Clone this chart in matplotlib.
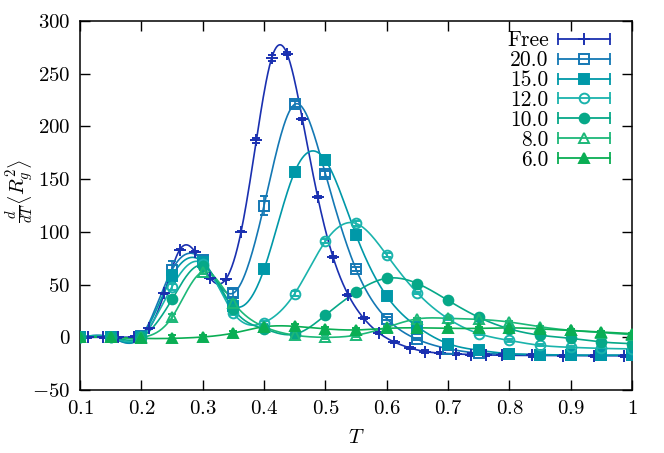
import numpy as np
import matplotlib
matplotlib.use("Agg")
import matplotlib.pyplot as plt
from matplotlib.lines import Line2D
from matplotlib.legend_handler import HandlerLine2D

plt.rcParams['font.family'] = 'cmr10'
plt.rcParams['mathtext.fontset'] = 'cm'
plt.rcParams['axes.formatter.use_mathtext'] = True

# temperatures
T = [0.1, 0.15, 0.2, 0.25, 0.3, 0.35, 0.4, 0.45, 0.5, 0.55,
     0.6, 0.65, 0.7, 0.75, 0.8, 0.85, 0.9, 0.95, 1.0]
T_free = [0.1125, 0.1375, 0.1625, 0.1875, 0.2125, 0.2375, 0.2625, 0.2875,
          0.3125, 0.3375, 0.3625, 0.3875, 0.4125, 0.4375, 0.4625, 0.4875,
          0.5125, 0.5375, 0.5625, 0.5875, 0.6125, 0.6375, 0.6625, 0.6875,
          0.7125, 0.7375, 0.7625, 0.7875, 0.8375, 0.8875, 0.9375, 0.9875]

free = [0, 0, 0, 0.5, 8.5, 42, 83, 81, 56, 55, 100, 187, 265, 269, 207, 133,
        76, 40, 18, 4, -4.5, -10, -13.5, -15, -15.8, -16.3, -16.7, -17,
        -17.2, -17.3, -17.4, -17.5]
free_err = [0.5] * 11 + [2.5, 2.5, 1.5] + [1] * 18

k20 = [0, 0, 1, 64, 73, 42, 125, 221, 155, 64.5, 17.7, -2, -10.8, -15,
       -16, -16.5, -17, -17, -17]
k15 = [0, 0, 0.5, 58, 71, 30, 64.5, 157, 168, 97, 39, 10, -6, -12.3,
       -15.5, -16.5, -17, -17, -17]
k12 = [0, 0, 0.3, 48, 70, 23, 14, 41.5, 91, 108, 78, 42, 17.7, 3.5,
       -3, -7.6, -9.5, -10.5, -11]
k10 = [0, 0, 0, 36, 68, 27, 8, 3, 21, 43, 56, 51, 35, 19, 8, 2, -1,
       -4.4, -6]
k8 = [0, 0, 0, 19, 62, 33, 10, 2, 0, 2, 9.5, 17.5, 18, 17, 14.5, 10,
      6.6, 4.5, 2.5]
k6 = [0, 0, -1, -1, 0.3, 4, 10, 10.4, 8, 7, 8.5, 9, 8.5, 8.5, 9, 8,
      6.5, 5, 3.5]

err20 = [0.5, 0.5, 1, 8, 3, 4, 9, 3, 3, 2, 1.5, 1, 1, 1, 1, 1, 1, 1, 1]
err15 = [0.5, 0.5, 1, 6, 3, 3, 2, 3, 3, 2, 1.5, 1, 1, 1, 1, 1, 1, 1, 1]
err_small = [0.5, 0.5, 1, 3, 2, 2, 1.5, 2, 2, 2, 1.5, 1, 1, 1, 1, 1, 1, 1, 1]

labels = ['Free', '20.0', '15.0', '12.0', '10.0', '8.0', '6.0']
colors = ['#1a30b0', '#1478b4', '#0098a8', '#1ab3ac', '#06a888',
          '#1cb878', '#0aae54']
markers = ['+', 's', 's', 'o', 'o', '^', '^']
filled = [True, False, True, False, True, False, True]


def natural_spline(x, y, xs):
    x = np.asarray(x, float)
    y = np.asarray(y, float)
    n = len(x)
    h = np.diff(x)
    A = np.zeros((n, n))
    b = np.zeros(n)
    A[0, 0] = 1
    A[-1, -1] = 1
    for i in range(1, n - 1):
        A[i, i - 1] = h[i - 1]
        A[i, i] = 2 * (h[i - 1] + h[i])
        A[i, i + 1] = h[i]
        b[i] = 6 * ((y[i + 1] - y[i]) / h[i] - (y[i] - y[i - 1]) / h[i - 1])
    M = np.linalg.solve(A, b)
    idx = np.clip(np.searchsorted(x, xs) - 1, 0, n - 2)
    x0, x1 = x[idx], x[idx + 1]
    hh = x1 - x0
    a = (x1 - xs) / hh
    c = (xs - x0) / hh
    return (a * y[idx] + c * y[idx + 1]
            + ((a ** 3 - a) * M[idx] + (c ** 3 - c) * M[idx + 1]) * hh ** 2 / 6)


series = [(T_free, free, free_err), (T, k20, err20), (T, k15, err15),
          (T, k12, err_small), (T, k10, err_small), (T, k8, err_small),
          (T, k6, err_small)]

fig = plt.figure(figsize=(6.64, 4.53), dpi=100)
ax = fig.add_axes([0.1205, 0.139, 0.8315, 0.8146])

handles = []
hmap = {}
for (x, y, e), lab, c, m, f in zip(series, labels, colors, markers, filled):
    xs = np.linspace(x[0], x[-1], 600)
    ax.plot(xs, natural_spline(x, y, xs), color=c, lw=1.2, zorder=2)
    ms = 9 if m == '+' else 7
    ax.errorbar(x, y, yerr=e, fmt=m, color=c, ms=ms, mew=1.4,
                mfc=c if f else 'none', elinewidth=1.2, capsize=3,
                capthick=1.2, zorder=3)
    cap = Line2D([], [], color=c, lw=1.3, marker='|', ms=9, mew=1.3)
    mk = Line2D([], [], color=c, ls='none', marker=m, ms=ms, mew=1.4,
                mfc=c if f else 'none')
    hmap[cap] = HandlerLine2D(numpoints=2, marker_pad=0)
    handles.append((cap, mk))

ax.legend(handles, labels, loc='upper right', markerfirst=False,
          frameon=False, fontsize=15.5, handlelength=2.4, labelspacing=0.015,
          handletextpad=0.45, borderaxespad=0.0, borderpad=0.0,
          bbox_to_anchor=(0.96, 0.973), handler_map=hmap)

ax.set_xlim(0.1, 1.0)
ax.set_ylim(-50, 300)
xt = [0.1, 0.2, 0.3, 0.4, 0.5, 0.6, 0.7, 0.8, 0.9, 1.0]
yt = [-50, 0, 50, 100, 150, 200, 250, 300]
ax.set_xticks(xt)
ax.set_xticklabels(['$%g$' % v for v in xt])
ax.set_yticks(yt)
ax.set_yticklabels(['$%d$' % v for v in yt])
ax.tick_params(direction='in', top=True, right=True, length=7, width=1,
               labelsize=15, pad=7)
for s in ax.spines.values():
    s.set_linewidth(1.1)

ax.set_xlabel('$T$', fontsize=15, labelpad=8)
ax.set_ylabel(r'$\frac{d}{dT}\left\langle R_g^2\right\rangle$', fontsize=15)
ax.yaxis.set_label_coords(-0.08, 0.54)

fig.savefig('out.png', dpi=100)
